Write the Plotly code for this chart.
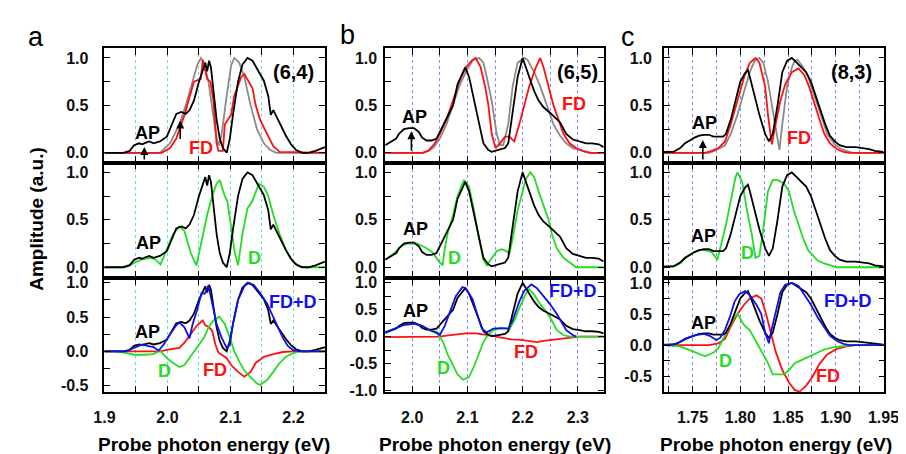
import plotly.graph_objects as go

W, H = 906, 454

# ---------------- Panel a : (6,4) ----------------
a_ap_x = [1.900, 1.930, 1.940, 1.947, 1.955, 1.960, 1.963, 1.971, 1.978, 1.988, 1.999, 2.006, 2.014, 2.022,
          2.029, 2.035, 2.042, 2.050, 2.058, 2.060, 2.063, 2.066, 2.069, 2.073, 2.078, 2.083, 2.088, 2.094,
          2.099, 2.104, 2.112, 2.119, 2.127, 2.135, 2.145, 2.153, 2.160, 2.164, 2.168, 2.173, 2.181, 2.188,
          2.196, 2.204, 2.214, 2.224, 2.235, 2.250]
a_ap_y = [0.00, 0.00, 0.02, 0.08, 0.10, 0.09, 0.10, 0.12, 0.10, 0.12, 0.17, 0.29, 0.41, 0.43,
          0.41, 0.45, 0.55, 0.75, 0.92, 0.95, 0.86, 0.97, 0.90, 0.62, 0.35, 0.15, 0.05, 0.00,
          0.15, 0.40, 0.75, 0.93, 1.00, 0.97, 0.86, 0.76, 0.60, 0.40, 0.45, 0.38, 0.28, 0.18,
          0.09, 0.03, 0.00, 0.00, 0.02, 0.06]

a_gray_x = [1.900, 1.988, 2.004, 2.019, 2.029, 2.040, 2.047, 2.053, 2.058, 2.065, 2.073, 2.078, 2.082,
            2.086, 2.094, 2.101, 2.106, 2.114, 2.122, 2.132, 2.142, 2.153, 2.163, 2.173, 2.250]
a_gray_y = [0.00, 0.00, 0.10, 0.30, 0.50, 0.75, 0.92, 1.00, 0.95, 0.75, 0.40, 0.15, 0.08,
            0.20, 0.60, 0.92, 1.00, 0.95, 0.80, 0.50, 0.25, 0.10, 0.03, 0.00, 0.00]

a_fd_x = [1.900, 1.991, 2.004, 2.014, 2.027, 2.042, 2.053, 2.056, 2.063, 2.068, 2.073, 2.078, 2.081,
          2.088, 2.091, 2.096, 2.101, 2.106, 2.117, 2.122, 2.129, 2.135, 2.140, 2.147, 2.158, 2.168,
          2.178, 2.250]
a_fd_y = [0.00, 0.00, 0.05, 0.15, 0.40, 0.75, 0.78, 0.98, 0.78, 0.75, 0.55, 0.10, 0.02,
          0.02, 0.30, 0.35, 0.40, 0.60, 0.80, 0.83, 0.75, 0.68, 0.50, 0.35, 0.20, 0.07,
          0.01, 0.00]

a_d_x = [1.900, 1.927, 1.942, 1.958, 1.973, 1.981, 1.989, 1.999, 2.009, 2.019, 2.027, 2.037, 2.046,
         2.055, 2.063, 2.071, 2.078, 2.083, 2.091, 2.095, 2.101, 2.107, 2.112, 2.119, 2.127, 2.135,
         2.145, 2.153, 2.160, 2.168, 2.178, 2.188, 2.199, 2.209, 2.219, 2.250]
a_d_y = [0.00, 0.00, 0.03, 0.08, 0.10, 0.08, 0.03, 0.20, 0.35, 0.43, 0.38, 0.15, 0.02,
         0.30, 0.55, 0.75, 0.88, 0.92, 0.75, 0.70, 0.40, 0.15, 0.02, 0.35, 0.62, 0.70,
         0.88, 0.85, 0.75, 0.55, 0.35, 0.18, 0.06, 0.01, 0.00, 0.00]

a_sum_x = [1.900, 1.935, 1.942, 1.953, 1.960, 1.968, 1.978, 1.986, 1.994, 2.004, 2.014, 2.019, 2.027,
           2.035, 2.040, 2.047, 2.054, 2.059, 2.065, 2.071, 2.078, 2.086, 2.094, 2.099, 2.104, 2.112,
           2.122, 2.129, 2.137, 2.147, 2.158, 2.168, 2.176, 2.183, 2.191, 2.199, 2.209, 2.250]
a_sum_y = [0.00, 0.00, 0.03, 0.07, 0.10, 0.08, 0.06, 0.01, 0.10, 0.25, 0.38, 0.42, 0.35,
           0.19, 0.40, 0.60, 0.85, 0.84, 0.96, 0.70, 0.40, 0.20, 0.05, 0.10, 0.40, 0.75,
           0.95, 1.00, 0.97, 0.85, 0.70, 0.50, 0.35, 0.20, 0.08, 0.02, 0.00, 0.00]

a_fd2_x = [1.900, 1.988, 1.999, 2.009, 2.019, 2.029, 2.040, 2.047, 2.056, 2.060, 2.065, 2.071, 2.076,
           2.081, 2.086, 2.094, 2.101, 2.112, 2.122, 2.132, 2.140, 2.153, 2.168, 2.183, 2.199, 2.250]
a_fd2_y = [0.00, 0.00, 0.02, 0.03, 0.05, 0.15, 0.30, 0.38, 0.45, 0.38, 0.36, 0.30, 0.10,
           -0.02, -0.05, -0.10, -0.20, -0.30, -0.37, -0.30, -0.17, -0.08, -0.04, -0.01, 0.00, 0.00]

a_d2_x = [1.900, 1.917, 1.932, 1.947, 1.963, 1.978, 1.988, 1.999, 2.009, 2.019, 2.027, 2.035, 2.042,
          2.050, 2.058, 2.065, 2.073, 2.082, 2.091, 2.099, 2.106, 2.114, 2.122, 2.132, 2.142, 2.147,
          2.158, 2.168, 2.178, 2.188, 2.199, 2.209, 2.250]
a_d2_y = [0.00, 0.00, -0.02, -0.05, -0.05, -0.04, 0.01, -0.10, -0.17, -0.23, -0.20, -0.10, 0.00,
          0.10, 0.20, 0.35, 0.45, 0.51, 0.40, 0.20, 0.00, -0.15, -0.28, -0.38, -0.47, -0.49,
          -0.42, -0.30, -0.17, -0.08, -0.03, 0.00, 0.00]

# ---------------- Panel b : (6,5) ----------------
b_ap_x = [1.951, 1.962, 1.971, 1.976, 1.985, 1.994, 2.003, 2.012, 2.018, 2.026, 2.035, 2.044, 2.053,
          2.062, 2.074, 2.082, 2.088, 2.096, 2.103, 2.112, 2.121, 2.129, 2.138, 2.144, 2.156, 2.168,
          2.174, 2.182, 2.191, 2.200, 2.209, 2.221, 2.229, 2.238, 2.250, 2.262, 2.268, 2.279, 2.291,
          2.303, 2.315, 2.326, 2.338, 2.347]
b_ap_y = [0.08, 0.12, 0.15, 0.20, 0.25, 0.26, 0.26, 0.22, 0.16, 0.13, 0.13, 0.15, 0.25,
          0.35, 0.50, 0.72, 0.80, 0.90, 0.80, 0.55, 0.30, 0.10, 0.03, 0.01, 0.03, 0.05,
          0.10, 0.45, 0.80, 1.00, 0.85, 0.65, 0.55, 0.48, 0.42, 0.35, 0.32, 0.20, 0.14,
          0.12, 0.10, 0.10, 0.09, 0.06]

b_gray_x = [1.951, 2.021, 2.038, 2.050, 2.062, 2.074, 2.085, 2.097, 2.109, 2.121, 2.129, 2.135, 2.144,
            2.153, 2.159, 2.165, 2.174, 2.182, 2.191, 2.203, 2.209, 2.221, 2.232, 2.244, 2.256, 2.268,
            2.279, 2.291, 2.303, 2.315, 2.326, 2.347]
b_gray_y = [0.00, 0.00, 0.05, 0.15, 0.30, 0.50, 0.70, 0.85, 0.97, 1.00, 0.95, 0.80, 0.55,
            0.20, 0.08, 0.08, 0.30, 0.70, 0.95, 1.00, 0.98, 0.85, 0.70, 0.50, 0.30, 0.18,
            0.10, 0.05, 0.03, 0.01, 0.00, 0.00]

b_fd_x = [1.951, 2.018, 2.029, 2.041, 2.050, 2.062, 2.074, 2.085, 2.097, 2.109, 2.115, 2.124, 2.132,
          2.138, 2.144, 2.151, 2.159, 2.168, 2.176, 2.185, 2.194, 2.203, 2.212, 2.224, 2.232, 2.238,
          2.247, 2.256, 2.265, 2.274, 2.285, 2.297, 2.309, 2.321, 2.347]
b_fd_y = [0.00, 0.00, 0.02, 0.10, 0.20, 0.35, 0.55, 0.75, 0.90, 0.98, 1.00, 0.90, 0.70,
          0.50, 0.20, 0.05, 0.10, 0.17, 0.17, 0.12, 0.30, 0.50, 0.70, 0.90, 1.00, 0.90,
          0.70, 0.50, 0.35, 0.20, 0.10, 0.05, 0.02, 0.00, 0.00]

b_d_x = [1.951, 1.968, 1.979, 1.991, 2.009, 2.026, 2.038, 2.047, 2.055, 2.059, 2.065, 2.074, 2.082,
         2.091, 2.094, 2.103, 2.112, 2.121, 2.129, 2.135, 2.144, 2.153, 2.162, 2.171, 2.176, 2.182,
         2.191, 2.200, 2.206, 2.214, 2.221, 2.229, 2.238, 2.247, 2.253, 2.262, 2.274, 2.285, 2.297,
         2.347]
b_d_y = [0.08, 0.15, 0.22, 0.25, 0.25, 0.20, 0.15, 0.07, 0.02, 0.20, 0.38, 0.55, 0.75,
         0.88, 0.92, 0.85, 0.60, 0.30, 0.08, 0.02, 0.10, 0.17, 0.19, 0.17, 0.14, 0.30,
         0.60, 0.80, 0.93, 1.00, 0.95, 0.80, 0.65, 0.50, 0.35, 0.20, 0.10, 0.05, 0.00,
         0.00]

b_sum_x = [1.951, 1.968, 1.985, 2.003, 2.018, 2.032, 2.044, 2.050, 2.059, 2.068, 2.079, 2.091, 2.097,
           2.109, 2.118, 2.126, 2.135, 2.147, 2.162, 2.174, 2.182, 2.194, 2.203, 2.216, 2.226, 2.238,
           2.250, 2.262, 2.271, 2.279, 2.291, 2.297]
b_sum_y = [0.08, 0.15, 0.22, 0.24, 0.20, 0.12, 0.08, 0.03, 0.20, 0.45, 0.75, 0.92, 0.90,
           0.70, 0.40, 0.15, 0.08, 0.15, 0.16, 0.15, 0.30, 0.65, 0.85, 0.97, 0.90, 0.75,
           0.60, 0.42, 0.25, 0.12, 0.03, 0.00]

b_fd2_x = [1.951, 2.050, 2.062, 2.079, 2.097, 2.115, 2.132, 2.144, 2.156, 2.168, 2.179, 2.197, 2.215,
           2.226, 2.238, 2.256, 2.274, 2.291, 2.303, 2.347]
b_fd2_y = [-0.01, 0.00, 0.02, 0.04, 0.06, 0.06, 0.04, 0.02, -0.01, -0.03, -0.05, -0.06, -0.09,
           -0.10, -0.08, -0.06, -0.04, -0.02, 0.00, 0.00]

b_d2_x = [1.951, 1.968, 1.985, 2.003, 2.018, 2.032, 2.044, 2.050, 2.056, 2.065, 2.074, 2.082, 2.092,
          2.103, 2.112, 2.121, 2.129, 2.135, 2.144, 2.156, 2.168, 2.176, 2.185, 2.197, 2.206, 2.212,
          2.221, 2.232, 2.244, 2.253, 2.262, 2.274, 2.285, 2.347]
b_d2_y = [0.06, 0.14, 0.22, 0.24, 0.20, 0.12, 0.06, 0.00, -0.10, -0.35, -0.55, -0.70, -0.80,
          -0.75, -0.55, -0.30, -0.10, 0.00, 0.10, 0.15, 0.16, 0.14, 0.30, 0.60, 0.80, 0.88,
          0.78, 0.60, 0.45, 0.30, 0.12, 0.03, 0.00, 0.00]

# ---------------- Panel c : (8,3) ----------------
c_ap_x = [1.720, 1.730, 1.737, 1.742, 1.747, 1.752, 1.757, 1.762, 1.767, 1.772, 1.777, 1.782, 1.785,
          1.790, 1.795, 1.800, 1.805, 1.808, 1.810, 1.815, 1.820, 1.826, 1.830, 1.834, 1.839, 1.844,
          1.849, 1.854, 1.859, 1.864, 1.869, 1.874, 1.879, 1.884, 1.889, 1.894, 1.899, 1.904, 1.911,
          1.921, 1.928, 1.935, 1.941, 1.950]
c_ap_y = [0.01, 0.01, 0.05, 0.10, 0.13, 0.16, 0.18, 0.19, 0.19, 0.17, 0.17, 0.17, 0.20,
          0.35, 0.55, 0.75, 0.84, 0.87, 0.80, 0.60, 0.40, 0.20, 0.12, 0.20, 0.50, 0.85,
          0.97, 1.00, 0.95, 0.90, 0.85, 0.75, 0.60, 0.45, 0.30, 0.18, 0.12, 0.08, 0.06,
          0.06, 0.05, 0.04, 0.02, 0.01]

c_gray_x = [1.720, 1.767, 1.773, 1.784, 1.790, 1.797, 1.804, 1.810, 1.815, 1.820, 1.824, 1.829, 1.834,
            1.837, 1.841, 1.844, 1.849, 1.854, 1.857, 1.860, 1.866, 1.871, 1.876, 1.881, 1.886, 1.891,
            1.898, 1.904, 1.911, 1.918, 1.950]
c_gray_y = [0.00, 0.00, 0.02, 0.08, 0.20, 0.40, 0.65, 0.85, 0.97, 1.00, 0.95, 0.75, 0.45,
            0.25, 0.03, 0.30, 0.70, 0.90, 0.97, 0.98, 0.90, 0.80, 0.65, 0.50, 0.35, 0.20,
            0.10, 0.05, 0.02, 0.00, 0.00]

c_fd_x = [1.720, 1.763, 1.770, 1.777, 1.784, 1.790, 1.797, 1.804, 1.810, 1.816, 1.820, 1.826, 1.829,
          1.833, 1.837, 1.842, 1.847, 1.854, 1.861, 1.867, 1.872, 1.878, 1.883, 1.888, 1.894, 1.901,
          1.908, 1.914, 1.950]
c_fd_y = [0.00, 0.00, 0.02, 0.05, 0.12, 0.30, 0.55, 0.80, 0.95, 1.00, 0.95, 0.70, 0.40,
          0.09, 0.30, 0.55, 0.72, 0.85, 0.89, 0.82, 0.70, 0.50, 0.35, 0.20, 0.10, 0.04,
          0.01, 0.00, 0.00]

c_d_x = [1.720, 1.730, 1.737, 1.743, 1.750, 1.757, 1.763, 1.770, 1.776, 1.780, 1.785, 1.790, 1.795,
         1.797, 1.802, 1.807, 1.812, 1.816, 1.820, 1.824, 1.829, 1.834, 1.839, 1.846, 1.851, 1.856,
         1.861, 1.866, 1.871, 1.876, 1.881, 1.888, 1.894, 1.901, 1.950]
c_d_y = [0.00, 0.01, 0.04, 0.10, 0.15, 0.18, 0.18, 0.16, 0.08, 0.25, 0.45, 0.70, 0.95,
         1.00, 0.90, 0.60, 0.35, 0.10, 0.12, 0.40, 0.80, 0.92, 0.92, 0.88, 0.80, 0.60,
         0.45, 0.30, 0.18, 0.12, 0.07, 0.04, 0.02, 0.00, 0.00]

c_sum_x = [1.720, 1.733, 1.743, 1.753, 1.762, 1.768, 1.775, 1.779, 1.784, 1.789, 1.794, 1.799, 1.805,
           1.810, 1.817, 1.822, 1.826, 1.830, 1.832, 1.837, 1.842, 1.847, 1.854, 1.861, 1.867, 1.874,
           1.881, 1.888, 1.894, 1.901, 1.908, 1.914, 1.950]
c_sum_y = [0.00, 0.02, 0.10, 0.16, 0.18, 0.15, 0.08, 0.12, 0.25, 0.45, 0.70, 0.82, 0.87,
           0.80, 0.65, 0.50, 0.20, 0.03, 0.20, 0.55, 0.85, 0.97, 1.00, 0.95, 0.82, 0.65,
           0.45, 0.28, 0.15, 0.07, 0.02, 0.00, 0.00]

c_fd2_x = [1.720, 1.767, 1.777, 1.784, 1.790, 1.797, 1.804, 1.810, 1.817, 1.822, 1.827, 1.832, 1.837,
           1.844, 1.851, 1.857, 1.862, 1.869, 1.876, 1.883, 1.891, 1.901, 1.911, 1.921, 1.950]
c_fd2_y = [0.00, 0.00, 0.03, 0.10, 0.30, 0.50, 0.65, 0.75, 0.80, 0.75, 0.50, 0.20, -0.10,
           -0.40, -0.60, -0.72, -0.75, -0.65, -0.50, -0.30, -0.15, -0.06, -0.02, 0.00, 0.00]

c_d2_x = [1.720, 1.737, 1.747, 1.757, 1.763, 1.772, 1.777, 1.782, 1.789, 1.794, 1.797, 1.804, 1.810,
          1.817, 1.824, 1.829, 1.834, 1.846, 1.851, 1.857, 1.864, 1.874, 1.888, 1.898, 1.908, 1.918,
          1.950]
c_d2_y = [0.00, -0.02, -0.08, -0.15, -0.18, -0.12, -0.05, 0.10, 0.30, 0.45, 0.50, 0.32, 0.24,
          0.05, -0.13, -0.29, -0.47, -0.47, -0.40, -0.29, -0.24, -0.17, -0.07, -0.03, -0.01, 0.00,
          0.00]

# ---------------- axes ----------------
a_xticks = [1.90, 1.95, 2.00, 2.05, 2.10, 2.15, 2.20, 2.25]
a_xlabels = ["1.9", "", "2.0", "", "2.1", "", "2.2", ""]
b_xticks = [1.95, 2.00, 2.05, 2.10, 2.15, 2.20, 2.25, 2.30]
b_xlabels = ["", "2.0", "", "2.1", "", "2.2", "", "2.3"]
c_xticks = [1.725, 1.75, 1.775, 1.80, 1.825, 1.85, 1.875, 1.90, 1.925, 1.95]
c_xlabels = ["", "1.75", "", "1.80", "", "1.85", "", "1.90", "", "1.95"]
yticks = [-1.0, -0.75, -0.5, -0.25, 0.0, 0.25, 0.5, 0.75, 1.0]
ylabels = ["-1.0", "", "-0.5", "", "0.0", "", "0.5", "", "1.0"]

BLACK, GRAY, RED, GREEN, BLUE = "#000000", "#8a8a8a", "#ff1010", "#22dd22", "#1010ee"
FONT = "Liberation Sans, Arial, Helvetica, sans-serif"

cols = [
    dict(px=(88, 315), xr=[1.9, 2.25], tv=a_xticks, tt=a_xlabels, grid="#66dde0", std=11),
    dict(px=(377, 602), xr=[1.951, 2.347], tv=b_xticks, tt=b_xlabels, grid="#8888ff", std=3),
    dict(px=(664, 891), xr=[1.72, 1.951], tv=c_xticks, tt=c_xlabels, grid="#8888ff", std=7),
]
rows = [(38, 155), (155, 273), (273, 390)]
yranges = [
    [[-0.103, 1.103], [-0.113, 1.103], [-0.6, 1.071]],
    [[-0.103, 1.103], [-0.113, 1.103], [-1.036, 1.09]],
    [[-0.103, 1.103], [-0.113, 1.103], [-0.76, 1.08]],
]

series = [
    [  # column a
        [(a_gray_x, a_gray_y, GRAY), (a_fd_x, a_fd_y, RED), (a_ap_x, a_ap_y, BLACK)],
        [(a_d_x, a_d_y, GREEN), (a_ap_x, a_ap_y, BLACK)],
        [(a_fd2_x, a_fd2_y, RED), (a_d2_x, a_d2_y, GREEN), (a_ap_x, a_ap_y, BLACK), (a_sum_x, a_sum_y, BLUE)],
    ],
    [
        [(b_gray_x, b_gray_y, GRAY), (b_fd_x, b_fd_y, RED), (b_ap_x, b_ap_y, BLACK)],
        [(b_d_x, b_d_y, GREEN), (b_ap_x, b_ap_y, BLACK)],
        [(b_fd2_x, b_fd2_y, RED), (b_d2_x, b_d2_y, GREEN), (b_ap_x, b_ap_y, BLACK), (b_sum_x, b_sum_y, BLUE)],
    ],
    [
        [(c_gray_x, c_gray_y, GRAY), (c_fd_x, c_fd_y, RED), (c_ap_x, c_ap_y, BLACK)],
        [(c_d_x, c_d_y, GREEN), (c_ap_x, c_ap_y, BLACK)],
        [(c_fd2_x, c_fd2_y, RED), (c_d2_x, c_d2_y, GREEN), (c_ap_x, c_ap_y, BLACK), (c_sum_x, c_sum_y, BLUE)],
    ],
]

fig = go.Figure()
layout = dict(width=W, height=H, margin=dict(l=0, r=0, t=0, b=0), autosize=False,
              paper_bgcolor="white", plot_bgcolor="white", showlegend=False,
              font=dict(family=FONT, color="black"))

TICKFONT = dict(family=FONT, size=16, weight="bold", color="#111")

for c, col in enumerate(cols):
    for r, (py0, py1) in enumerate(rows):
        i = r * 3 + c + 1
        sfx = "" if i == 1 else str(i)
        for xs, ys, colr in series[c][r]:
            fig.add_trace(go.Scatter(x=xs, y=ys, mode="lines", line=dict(color=colr, width=1.8),
                                     xaxis="x" + sfx, yaxis="y" + sfx, hoverinfo="skip"))
        layout["xaxis" + sfx] = dict(
            domain=[col["px"][0] / W, col["px"][1] / W], range=col["xr"], anchor="y" + sfx,
            tickvals=col["tv"], ticktext=col["tt"], showticklabels=(r == 2),
            ticks="inside", ticklen=7, tickwidth=1.4, tickcolor="black", mirror="allticks",
            showline=True, linecolor="black", linewidth=1.6, zeroline=False,
            showgrid=True, gridcolor=col["grid"], griddash="dot", gridwidth=1,
            tickfont=TICKFONT, ticklabelstandoff=10)
        layout["yaxis" + sfx] = dict(
            domain=[1 - py1 / H, 1 - py0 / H], range=yranges[c][r], anchor="x" + sfx,
            tickvals=yticks, ticktext=ylabels, ticks="inside", ticklen=6, tickwidth=1.4,
            tickcolor="black", mirror="allticks", showline=True, linecolor="black", linewidth=1.6,
            zeroline=False, showgrid=False, ticklabelstandoff=col["std"], tickfont=TICKFONT)

def P(px, py):
    return px / W, 1 - py / H

ann = []
def label(text, px, py, color="black", size=18, bold=True, angle=0):
    x, y = P(px, py)
    ann.append(dict(text=text, x=x, y=y, xref="paper", yref="paper", showarrow=False,
                    xanchor="center", yanchor="middle", textangle=angle,
                    font=dict(family=FONT, size=size, color=color, weight="bold" if bold else "normal")))

def arrow(px, py_head, py_tail):
    x, y = P(px, py_head)
    ann.append(dict(text="", x=x, y=y, xref="paper", yref="paper", showarrow=True,
                    ax=0, ay=py_tail - py_head, arrowhead=2, arrowsize=1, arrowwidth=1.6,
                    arrowcolor="black", standoff=0, startstandoff=0))

# panel letters
label("a", 18, 27, size=27, bold=False)
label("b", 338, 25, size=27, bold=False)
label("c", 627, 27, size=27, bold=False)
# chirality labels
label("(6,4)", 283, 62, size=20)
label("(6,5)", 575, 62, size=20)
label("(8,3)", 857, 62, size=20)
# top row
label("AP", 132, 125); label("FD", 187, 140, RED)
label("AP", 407, 108); label("FD", 571, 95, RED)
label("AP", 706, 115); label("FD", 803, 130, RED)
# middle row
label("AP", 133, 237); label("D", 242, 253, GREEN)
label("AP", 408, 223); label("D", 448, 253, GREEN)
label("AP", 705, 230); label("D", 750, 247, GREEN)
# bottom row
label("AP", 132, 328); label("D", 150, 368, GREEN); label("FD", 202, 367, RED); label("FD+D", 282, 298, BLUE)
label("AP", 408, 307); label("D", 437, 365, GREEN); label("FD", 522, 349, RED); label("FD+D", 570, 286, BLUE)
label("AP", 705, 319); label("D", 727, 358, GREEN); label("FD", 833, 373, RED); label("FD+D", 853, 297, BLUE)
# arrows
arrow(129, 139, 153)
arrow(166, 112, 132)
arrow(404, 123, 144)
arrow(704, 132, 153)
# axis titles
label("Probe photon energy (eV)", 201, 443, size=19)
label("Probe photon energy (eV)", 490, 443, size=19)
label("Probe photon energy (eV)", 779, 443, size=19)
label("Amplitude (a.u.)", 18, 212, size=19, angle=-90)

layout["annotations"] = ann
fig.update_layout(**layout)
fig.write_html("out.html")
